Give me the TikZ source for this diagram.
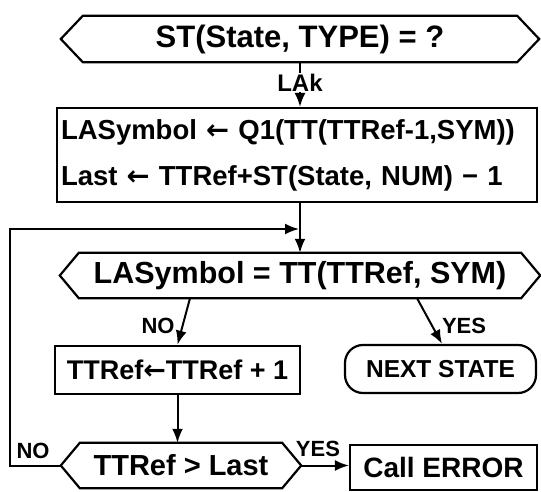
\documentclass[tikz,border=0pt]{standalone}
\usepackage{fontspec}
\setmainfont{Liberation Sans}
\newfontfamily\arrfont{DejaVu Sans}
\usetikzlibrary{arrows.meta}
\newcommand{\fs}[1]{\fontsize{#1}{#1}\selectfont}
\newcommand{\larr}{{\arrfont\bfseries ←}}
\begin{document}
\begin{tikzpicture}[x=1pt,y=-1pt,
  outline/.style={draw, line width=2.2pt},
  core/.style={draw=none, inner sep=0pt},
  boxnode/.style={draw, line width=2.2pt, inner sep=0pt},
  arr/.style={line width=2pt, -{Latex[length=14pt,width=11pt]}},
  lbl/.style={font=\fs{22}\bfseries, inner sep=1pt}
]
\useasboundingbox (0,0) rectangle (541,492);

% top hexagon
\node[core, minimum width=434pt, minimum height=46pt, font=\fs{31}\bfseries] (h1) at (300,39) {ST(State, TYPE) = ?};
\draw[outline] (h1.north west) -- (h1.north east) -- ([xshift=22pt]h1.east) -- (h1.south east) -- (h1.south west) -- ([xshift=-22pt]h1.west) -- cycle;

% first box
\node[boxnode, minimum width=480pt, minimum height=94pt, text width=472pt, inner xsep=4pt, align=left, font=\fontsize{27.5}{46}\selectfont\bfseries] (b1) at (297,155)
  {LASymbol \larr{} Q1(TT(TTRef-1,SYM))\\Last \larr{} TTRef+ST(State, NUM) − 1};

\draw[arr] (h1.south) -- node[lbl, font=\fs{24}\bfseries, fill=white, pos=0.45] {LAk} (h1.south |- b1.north);

% second hexagon
\node[core, minimum width=442pt, minimum height=45pt, font=\fs{30.5}\bfseries] (h2) at (300,275.5) {LASymbol = TT(TTRef, SYM)};
\draw[outline] (h2.north west) -- (h2.north east) -- ([xshift=19pt]h2.east) -- (h2.south east) -- (h2.south west) -- ([xshift=-19pt]h2.west) -- cycle;

\coordinate (j) at (300,229);
\draw[arr] (b1.south -| h2.north) -- (h2.north);

% boxes row
\node[boxnode, minimum width=245pt, minimum height=48.5pt, font=\fs{27}\bfseries] (b2) at (177.5,370) {TTRef\larr TTRef + 1};
\node[boxnode, minimum width=191pt, minimum height=48pt, rounded corners=18pt, font=\fs{24.5}\bfseries] (ns) at (440.5,369) {NEXT STATE};

\draw[arr] ([xshift=-110pt]h2.south) -- node[lbl, pos=0.6, left=6pt] {NO} (b2.north);
\draw[arr] ([xshift=117pt]h2.south) -- node[lbl, pos=0.6, right=8pt] {YES} ([xshift=1.5pt]ns.north);

% third hexagon
\node[core, minimum width=202pt, minimum height=45pt, font=\fs{29}\bfseries] (h3) at (181,465.5) {TTRef > Last};
\draw[outline] (h3.north west) -- (h3.north east) -- ([xshift=19pt]h3.east) -- (h3.south east) -- (h3.south west) -- ([xshift=-19pt]h3.west) -- cycle;
\coordinate (h3L) at ([xshift=-19pt]h3.west);
\coordinate (h3R) at ([xshift=19pt]h3.east);

\draw[arr] (b2.south) -- (b2.south |- h3.north);

% call error
\node[boxnode, minimum width=187pt, minimum height=45pt, font=\fs{28}\bfseries] (ce) at (443.5,467.5) {Call ERROR};
\draw[arr] (h3R) -- (h3R -| ce.west);
\node[lbl] (yes2) at (318,449) {YES};

% loop back
\coordinate (lc) at (10,229);
\draw[arr] (h3L) -| (lc) -- ([xshift=-1pt]j);
\node[lbl] (no2) at (33,451) {NO};
\end{tikzpicture}
\end{document}
